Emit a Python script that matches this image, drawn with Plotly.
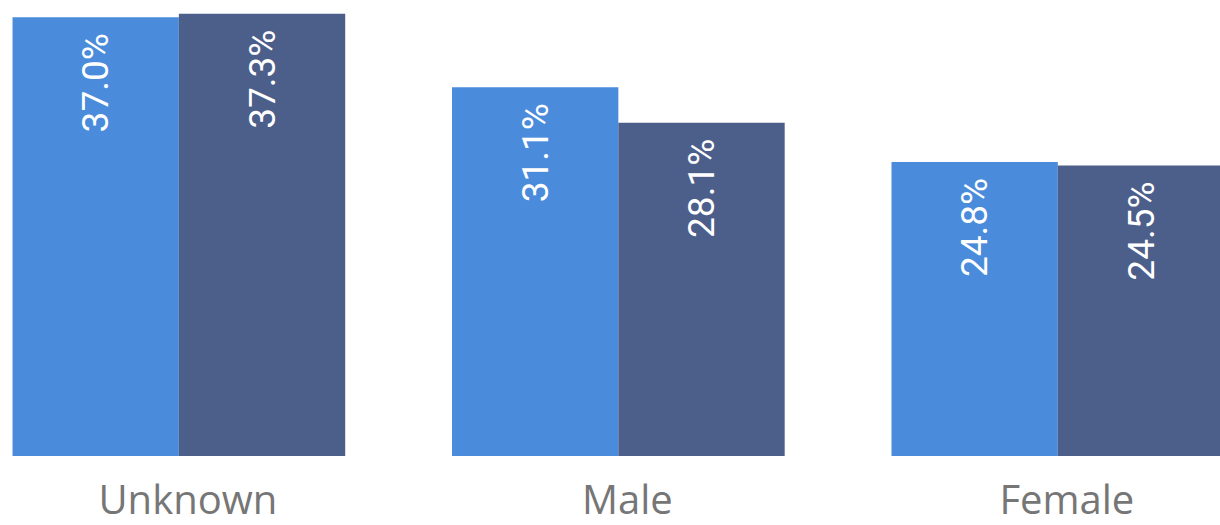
import plotly.graph_objects as go

categories = ["Unknown", "Male", "Female"]
series_a = [37.0, 31.1, 24.8]
series_b = [37.3, 28.1, 24.5]
series_names = ["Series A", "Series B"]
colors = ["#4A8CDB", "#4C5E8A"]

fig = go.Figure()
for name, vals, col in zip(series_names, [series_a, series_b], colors):
    fig.add_trace(go.Bar(
        x=categories, y=vals, name=name,
        marker=dict(color=col, line=dict(width=0)),
        texttemplate="%{y:.1f}% \u200a",
        textposition="inside",
        insidetextanchor="end",
        textangle=-90,
        textfont=dict(family="Roboto", size=37, color="white"),
        cliponaxis=True,
    ))

fig.update_layout(
    width=1220, height=525,
    margin=dict(l=0, r=0, t=0, b=69),
    barmode="group", bargap=0.243, bargroupgap=0,
    showlegend=False,
    plot_bgcolor="white", paper_bgcolor="white",
    uniformtext=dict(mode=False),
    xaxis=dict(
        range=[-0.407, 2.369], showgrid=False, showline=False, zeroline=False,
        ticks="", ticklabelshift=9, ticklabelstandoff=17,
        tickfont=dict(family="Open Sans", size=40, color="#767676"),
    ),
    yaxis=dict(range=[0, 38.45], visible=False, showgrid=False, zeroline=False),
)

fig.write_html("out.html", config={"displayModeBar": False},
               post_script="document.body.style.margin='0';document.body.style.overflow='hidden';")
